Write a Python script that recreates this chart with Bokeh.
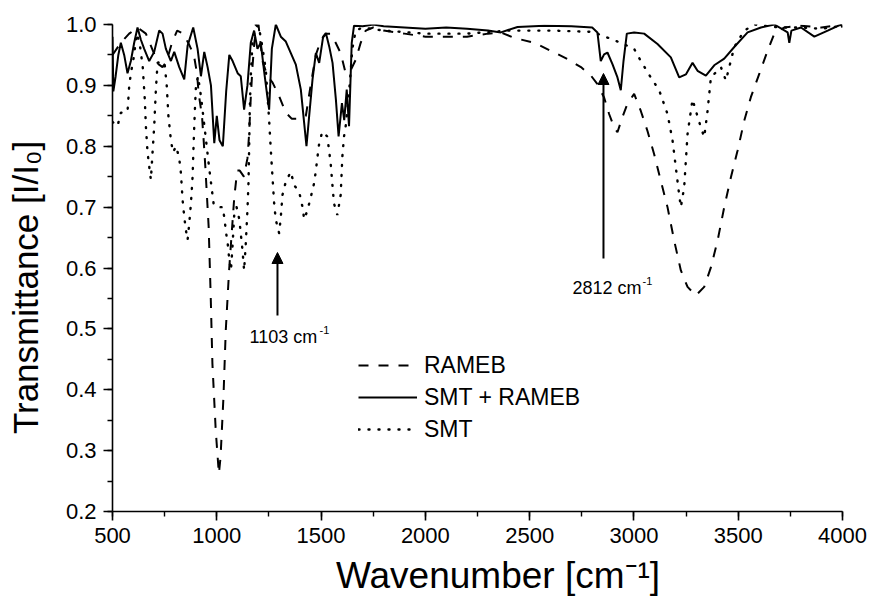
from bokeh.plotting import figure
from bokeh.models import (Range1d, FixedTicker, Label, Arrow, NormalHead, Legend,
                          LegendItem, PrintfTickFormatter)
from bokeh.embed import file_html
from bokeh.resources import INLINE

# ---------------- data ----------------
rameb_wn = [500, 540, 580, 620, 660, 690, 720, 740, 760, 785, 810, 840, 870, 890, 905,
            913, 929, 937, 945, 953, 961, 971, 979, 995, 1010, 1018, 1032, 1043, 1059,
            1068, 1084, 1098, 1110, 1130, 1147, 1155, 1163, 1171, 1180, 1190, 1200,
            1219, 1243, 1267, 1299, 1331, 1360, 1400, 1427, 1450, 1475, 1500, 1525,
            1545, 1570, 1594, 1618, 1642, 1666, 1690, 1714, 1750, 1800, 1900, 2000,
            2100, 2200, 2300, 2362, 2426, 2522, 2618, 2682, 2746, 2794, 2825, 2857,
            2881, 2905, 2921, 2945, 2969, 3001, 3033, 3065, 3097, 3129, 3161, 3193,
            3225, 3257, 3297, 3337, 3369, 3401, 3433, 3465, 3497, 3529, 3561, 3601,
            3641, 3673, 3720, 3800, 3900, 4000]
rameb_t = [0.95, 0.97, 0.985, 0.995, 0.985, 0.96, 0.935, 0.93, 0.94, 0.97, 0.99, 0.985,
           0.965, 0.95, 0.92, 0.887, 0.85, 0.81, 0.767, 0.717, 0.668, 0.552, 0.443, 0.333,
           0.262, 0.289, 0.388, 0.497, 0.596, 0.64, 0.717, 0.76, 0.76, 0.75, 0.78, 0.82,
           0.88, 0.93, 0.97, 0.995, 1.0, 0.94, 0.915, 0.905, 0.882, 0.855, 0.845, 0.845,
           0.85, 0.9, 0.95, 0.975, 0.985, 0.985, 0.97, 0.953, 0.92, 0.925, 0.942, 0.97,
           0.99, 0.995, 0.99, 0.985, 0.98, 0.98, 0.98, 0.985, 0.987, 0.978, 0.97, 0.954,
           0.943, 0.93, 0.916, 0.902, 0.88, 0.853, 0.831, 0.823, 0.848, 0.87, 0.886,
           0.858, 0.825, 0.787, 0.743, 0.70, 0.645, 0.596, 0.569, 0.555, 0.569, 0.601,
           0.645, 0.70, 0.749, 0.793, 0.842, 0.881, 0.919, 0.957, 0.985, 0.995, 0.998,
           0.995, 1.0]

mix_wn = [500, 504, 515, 528, 540, 556, 572, 588, 604, 620, 636, 652, 676, 700, 724, 740,
          756, 780, 796, 820, 844, 860, 887, 908, 924, 940, 956, 972, 988, 1000, 1013,
          1029, 1045, 1060, 1076, 1100, 1115, 1131, 1147, 1163, 1179, 1195, 1211, 1227,
          1243, 1251, 1264, 1283, 1307, 1331, 1355, 1379, 1403, 1419, 1430, 1443, 1459,
          1475, 1491, 1510, 1523, 1539, 1555, 1571, 1584, 1600, 1611, 1623, 1634, 1647,
          1658, 1700, 1750, 1800, 1900, 2000, 2100, 2200, 2300, 2362, 2442, 2570, 2700,
          2800, 2825, 2841, 2857, 2873, 2897, 2921, 2937, 2950, 2966, 3001, 3049, 3113,
          3177, 3217, 3249, 3281, 3305, 3345, 3385, 3433, 3481, 3545, 3609, 3673, 3737,
          3745, 3755, 3801, 3865, 3929, 3992, 4000]
mix_t = [0.98, 0.89, 0.915, 0.95, 0.97, 0.95, 0.92, 0.94, 0.97, 0.995, 0.975, 0.96, 0.94,
         0.955, 0.99, 0.985, 0.96, 0.94, 0.955, 0.93, 0.91, 0.965, 0.995, 0.96, 0.915,
         0.955, 0.93, 0.90, 0.805, 0.85, 0.81, 0.80, 0.89, 0.95, 0.94, 0.92, 0.915, 0.86,
         0.90, 0.97, 0.99, 0.96, 0.97, 0.923, 0.88, 0.86, 0.96, 1.0, 0.98, 0.972, 0.953,
         0.934, 0.893, 0.838, 0.80, 0.85, 0.91, 0.953, 0.937, 0.98, 0.986, 0.964, 0.937,
         0.877, 0.816, 0.871, 0.843, 0.893, 0.833, 0.97, 0.998, 0.997, 1.0, 0.997, 0.995,
         0.993, 0.995, 0.993, 0.99, 0.987, 0.996, 0.998, 0.997, 0.995, 0.987, 0.94, 0.951,
         0.954, 0.935, 0.913, 0.892, 0.94, 0.985, 0.987, 0.985, 0.968, 0.946, 0.913,
         0.918, 0.937, 0.924, 0.916, 0.933, 0.944, 0.963, 0.987, 0.995, 1.0, 0.987, 0.97,
         0.99, 0.995, 0.98, 0.99, 1.0, 0.995]

smt_wn = [500, 524, 540, 572, 580, 588, 604, 615, 630, 645, 655, 660, 668, 676, 684, 692,
          700, 708, 716, 735, 750, 760, 768, 780, 790, 805, 820, 828, 836, 844, 852, 860,
          868, 876, 884, 889, 895, 900, 910, 925, 945, 965, 985, 1000, 1029, 1037, 1045,
          1053, 1060, 1068, 1076, 1084, 1095, 1108, 1123, 1131, 1139, 1147, 1152, 1155,
          1158, 1163, 1171, 1187, 1205, 1220, 1235, 1251, 1259, 1267, 1275, 1283, 1299,
          1307, 1315, 1331, 1355, 1371, 1395, 1411, 1419, 1435, 1451, 1467, 1475, 1483,
          1491, 1506, 1530, 1546, 1555, 1562, 1578, 1594, 1602, 1610, 1618, 1634, 1650,
          1666, 1700, 1800, 2000, 2200, 2400, 2600, 2800, 2900, 2969, 3001, 3033, 3081,
          3121, 3161, 3185, 3201, 3217, 3225, 3241, 3257, 3281, 3297, 3321, 3337, 3353,
          3369, 3417, 3441, 3457, 3481, 3529, 3577, 3700, 3800, 3900, 4000]
smt_t = [0.84, 0.833, 0.855, 0.857, 0.898, 0.92, 0.95, 0.985, 0.97, 0.93, 0.876, 0.833,
         0.79, 0.767, 0.745, 0.79, 0.833, 0.893, 0.937, 0.94, 0.935, 0.90, 0.85, 0.81,
         0.79, 0.80, 0.78, 0.756, 0.712, 0.684, 0.662, 0.646, 0.673, 0.706, 0.75, 0.805,
         0.86, 0.898, 0.915, 0.88, 0.82, 0.76, 0.705, 0.70, 0.70, 0.68, 0.657, 0.638,
         0.613, 0.596, 0.64, 0.69, 0.70, 0.68, 0.63, 0.596, 0.64, 0.695, 0.74, 0.794,
         0.86, 0.915, 0.97, 1.0, 0.99, 0.96, 0.926, 0.843, 0.794, 0.75, 0.706, 0.679,
         0.657, 0.684, 0.72, 0.742, 0.758, 0.736, 0.725, 0.70, 0.68, 0.695, 0.717, 0.74,
         0.76, 0.783, 0.805, 0.824, 0.816, 0.772, 0.734, 0.706, 0.687, 0.72, 0.783, 0.816,
         0.833, 0.887, 0.96, 0.99, 0.995, 0.99, 0.985, 0.985, 0.99, 0.99, 0.988, 0.975,
         0.965, 0.96, 0.94, 0.913, 0.892, 0.853, 0.81, 0.765, 0.72, 0.70, 0.733, 0.82,
         0.877, 0.858, 0.831, 0.815, 0.858, 0.913, 0.93, 0.908, 0.93, 0.963, 0.99, 1.0,
         0.995, 0.995, 0.993, 0.998]

x_ticks = [500, 1000, 1500, 2000, 2500, 3000, 3500, 4000]
y_ticks = [0.2, 0.3, 0.4, 0.5, 0.6, 0.7, 0.8, 0.9, 1.0]
series_names = ["RAMEB", "SMT + RAMEB", "SMT"]
annot_wn = [1103, 2812]
x_title = "Wavenumber [cm\u207b\u00b9]"
y_title = "Transmittance [I/I\u2080]"

# ---------------- layout helpers ----------------
W, H = 871, 599
FL, FR, FT, FB = 112, 842, 24, 511
X0, X1, Y0, Y1 = 500, 4000, 0.2, 1.0


def dx(px):
    return X0 + (px - FL) * (X1 - X0) / (FR - FL)


def dy(py):
    return Y0 + (FB - py) * (Y1 - Y0) / (FB - FT)


FONT = "Liberation Sans"
NBSP = "\u00a0"

p = figure(width=W, height=H, x_range=Range1d(X0, X1), y_range=Range1d(Y0, Y1),
           output_backend="svg", toolbar_location=None,
           min_border_left=FL, min_border_right=W - FR,
           min_border_top=FT, min_border_bottom=H - FB)
p.outline_line_color = None
p.xgrid.visible = False
p.ygrid.visible = False
p.background_fill_color = "white"
p.border_fill_color = "white"

minor_x = [500 + 250 * i for i in range(15)]
minor_y = [round(0.2 + 0.05 * i, 2) for i in range(17)]
p.xaxis.ticker = FixedTicker(ticks=x_ticks, minor_ticks=minor_x)
p.yaxis.ticker = FixedTicker(ticks=y_ticks, minor_ticks=minor_y)
p.yaxis.formatter = PrintfTickFormatter(format="%.1f")
for ax in (p.xaxis, p.yaxis):
    ax.axis_line_width = 1.6
    ax.axis_line_color = "black"
    ax.major_tick_line_width = 1.6
    ax.minor_tick_line_width = 1.4
    ax.major_tick_line_color = "black"
    ax.minor_tick_line_color = "black"
    ax.major_tick_out = 9
    ax.major_tick_in = 0
    ax.minor_tick_out = 5
    ax.minor_tick_in = 0
    ax.major_label_text_font = FONT
    ax.major_label_text_font_size = "22px"
    ax.major_label_text_color = "black"
    ax.axis_label_text_font = FONT
    ax.axis_label_text_font_style = "normal"
    ax.axis_label_text_color = "black"
p.xaxis.major_label_standoff = 7
p.yaxis.major_label_standoff = 7
# leading/trailing no-break spaces only shift the centred titles to the reference position
p.xaxis.axis_label = NBSP * 4 + x_title
p.xaxis.axis_label_text_font_size = "37px"
p.xaxis.axis_label_standoff = 9
p.yaxis.axis_label = y_title + NBSP * 4
p.yaxis.axis_label_text_font_size = "35px"
p.yaxis.axis_label_standoff = 18

r_rameb = p.line(rameb_wn, rameb_t, line_color="black", line_width=2, line_dash="10 10")
r_mix = p.line(mix_wn, mix_t, line_color="black", line_width=2)
r_smt = p.line(smt_wn, smt_t, line_color="black", line_width=2.4, line_dash="1 9",
               line_cap="round")

legend = Legend(items=[LegendItem(label=series_names[0], renderers=[r_rameb]),
                       LegendItem(label=series_names[1], renderers=[r_mix]),
                       LegendItem(label=series_names[2], renderers=[r_smt])],
                location=(246, 68), padding=0, margin=0, spacing=4,
                glyph_width=59, glyph_height=28, label_height=28, label_standoff=7,
                label_text_font=FONT, label_text_font_size="23px",
                label_text_color="black",
                border_line_color=None, background_fill_alpha=0)
p.add_layout(legend)

# arrows
head = dict(size=11, fill_color="black", line_color="black")
p.add_layout(Arrow(end=NormalHead(**head), x_start=1291, y_start=dy(315),
                   x_end=1291, y_end=dy(252), line_width=2, line_color="black"))
p.add_layout(Arrow(end=NormalHead(**head), x_start=2854, y_start=dy(258),
                   x_end=2854, y_end=dy(73), line_width=2, line_color="black"))


def lab(x, y, text, size, **kw):
    p.add_layout(Label(x=x, y=y, text=text, text_font=FONT, text_font_size=size,
                       text_color="black", text_baseline="alphabetic", **kw))


# annotation texts
lab(dx(249), dy(336), "%d cm" % annot_wn[0], "18px")
lab(dx(249 + 3.835 * 18 + 1), dy(329), "-1", "11px")
lab(dx(572), dy(287), "%d cm" % annot_wn[1], "18px")
lab(dx(572 + 3.835 * 18 + 1), dy(280), "-1", "11px")

open("out.html", "w").write(file_html(p, INLINE))
